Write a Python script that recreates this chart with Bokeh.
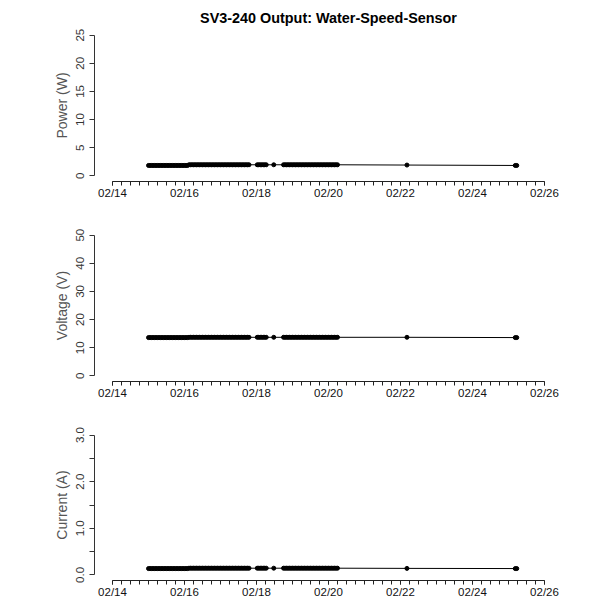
import pandas as pd
from bokeh.plotting import figure
from bokeh.layouts import column
from bokeh.models import Range1d, FixedTicker, DatetimeTickFormatter, PrintfTickFormatter
from bokeh.embed import file_html
from bokeh.resources import INLINE

# ---------------- data ----------------
# hours after 2015-02-15 00:00, by stretch of readings
hours_a = [0, 1, 2, 3, 4, 5, 6, 7, 8, 9,
           10, 11, 12, 13, 14, 15, 16, 17, 18, 19,
           20, 21, 22, 23, 24, 25, 26, 27, 28, 29,
           30, 31, 32, 33, 34, 35, 36, 37, 38, 39,
           40, 41, 42, 43, 44, 45, 46, 47, 48, 49,
           50, 51, 52, 53, 54, 55, 56, 57, 58, 59,
           60, 61, 62, 63, 64, 65, 66, 67]
hours_b = [72.5, 73.5, 74.5, 75.5, 76.5, 77.5, 78.5, 83.5]
hours_d = [90, 91, 92, 93, 94, 95, 96, 97, 98, 99,
           100, 101, 102, 103, 104, 105, 106, 107, 108, 109,
           110, 111, 112, 113, 114, 115, 116, 117, 118, 119,
           120, 121, 122, 123, 124, 125, 126]
hours_e = [172.3, 244.5, 245.5]

power_a = [1.85, 1.85, 1.85, 1.85, 1.85, 1.85, 1.85, 1.85, 1.85, 1.85,
           1.85, 1.85, 1.85, 1.85, 1.85, 1.85, 1.85, 1.85, 1.85, 1.85,
           1.85, 1.85, 1.85, 1.85, 1.85, 1.85, 1.85, 1.97, 1.97, 1.97,
           1.97, 1.97, 1.97, 1.97, 1.97, 1.97, 1.97, 1.97, 1.97, 1.97,
           1.97, 1.97, 1.97, 1.97, 1.97, 1.97, 1.97, 1.97, 1.97, 1.97,
           1.97, 1.97, 1.97, 1.97, 1.97, 1.97, 1.97, 1.97, 1.97, 1.97,
           1.97, 1.97, 1.97, 1.97, 1.97, 1.97, 1.97, 1.97]
power_b = [1.97, 1.97, 1.97, 1.97, 1.97, 1.97, 1.97, 1.97]
power_d = [1.97, 1.97, 1.97, 1.97, 1.97, 1.97, 1.97, 1.97, 1.97, 1.97,
           1.97, 1.97, 1.97, 1.97, 1.97, 1.97, 1.97, 1.97, 1.97, 1.97,
           1.97, 1.97, 1.97, 1.97, 1.97, 1.97, 1.97, 1.97, 1.97, 1.97,
           1.97, 1.97, 1.97, 1.97, 1.97, 1.97, 1.97]
power_e = [1.92, 1.85, 1.85]

voltage_a = [13.6, 13.6, 13.6, 13.6, 13.6, 13.6, 13.6, 13.6, 13.6, 13.6,
             13.6, 13.6, 13.6, 13.6, 13.6, 13.6, 13.6, 13.6, 13.6, 13.6,
             13.6, 13.6, 13.6, 13.6, 13.6, 13.6, 13.6, 13.7, 13.7, 13.7,
             13.7, 13.7, 13.7, 13.7, 13.7, 13.7, 13.7, 13.7, 13.7, 13.7,
             13.7, 13.7, 13.7, 13.7, 13.7, 13.7, 13.7, 13.7, 13.7, 13.7,
             13.7, 13.7, 13.7, 13.7, 13.7, 13.7, 13.7, 13.7, 13.7, 13.7,
             13.7, 13.7, 13.7, 13.7, 13.7, 13.7, 13.7, 13.7]
voltage_b = [13.7, 13.7, 13.7, 13.7, 13.7, 13.7, 13.7, 13.7]
voltage_d = [13.7, 13.7, 13.7, 13.7, 13.7, 13.7, 13.7, 13.7, 13.7, 13.7,
             13.7, 13.7, 13.7, 13.7, 13.7, 13.7, 13.7, 13.7, 13.7, 13.7,
             13.7, 13.7, 13.7, 13.7, 13.7, 13.7, 13.7, 13.7, 13.7, 13.7,
             13.7, 13.7, 13.7, 13.7, 13.7, 13.7, 13.7]
voltage_e = [13.7, 13.6, 13.6]

current_a = [0.136, 0.136, 0.136, 0.136, 0.136, 0.136, 0.136, 0.136, 0.136, 0.136,
             0.136, 0.136, 0.136, 0.136, 0.136, 0.136, 0.136, 0.136, 0.136, 0.136,
             0.136, 0.136, 0.136, 0.136, 0.136, 0.136, 0.136, 0.144, 0.144, 0.144,
             0.144, 0.144, 0.144, 0.144, 0.144, 0.144, 0.144, 0.144, 0.144, 0.144,
             0.144, 0.144, 0.144, 0.144, 0.144, 0.144, 0.144, 0.144, 0.144, 0.144,
             0.144, 0.144, 0.144, 0.144, 0.144, 0.144, 0.144, 0.144, 0.144, 0.144,
             0.144, 0.144, 0.144, 0.144, 0.144, 0.144, 0.144, 0.144]
current_b = [0.144, 0.144, 0.144, 0.144, 0.144, 0.144, 0.144, 0.144]
current_d = [0.144, 0.144, 0.144, 0.144, 0.144, 0.144, 0.144, 0.144, 0.144, 0.144,
             0.144, 0.144, 0.144, 0.144, 0.144, 0.144, 0.144, 0.144, 0.144, 0.144,
             0.144, 0.144, 0.144, 0.144, 0.144, 0.144, 0.144, 0.144, 0.144, 0.144,
             0.144, 0.144, 0.144, 0.144, 0.144, 0.144, 0.144]
current_e = [0.140, 0.136, 0.136]

x_tick_dates = ["2015-02-14", "2015-02-16", "2015-02-18", "2015-02-20",
                "2015-02-22", "2015-02-24", "2015-02-26"]

power_ticks = [0, 5, 10, 15, 20, 25]
voltage_ticks = [0, 10, 20, 30, 40, 50]
current_ticks = [0, 1, 2, 3]
current_minor = [0.5, 1.5, 2.5]

title_text = "SV3-240 Output: Water-Speed-Sensor"

# ---------------- build ----------------
hours = hours_a + hours_b + hours_d + hours_e
power = power_a + power_b + power_d + power_e
voltage = voltage_a + voltage_b + voltage_d + voltage_e
current = current_a + current_b + current_d + current_e

origin = pd.Timestamp("2015-02-15 00:00")
times = [origin + pd.Timedelta(hours=h) for h in hours]


def ms(ts):
    return pd.Timestamp(ts).value / 1e6


major_ms = [ms(d) for d in x_tick_dates]
minor_ms = [major_ms[0] + i * 6 * 3600 * 1000 for i in range(49)]

FONT = "Liberation Sans"


def make_panel(y, yrange, ybounds, yticks, yminor, ylabel, height, top, bottom, fmt=None, title=None):
    p = figure(x_axis_type="datetime", output_backend="svg", toolbar_location=None,
               width=592, height=height,
               min_border_left=94, min_border_right=30, min_border_top=top, min_border_bottom=bottom,
               x_range=Range1d(ms("2015-02-13 12:00"), ms("2015-02-26 12:00")),
               y_range=Range1d(*yrange), background_fill_color="white",
               border_fill_color="white")
    p.outline_line_color = None
    p.xgrid.visible = False
    p.ygrid.visible = False
    if title:
        p.title.text = title
        p.title.align = "center"
        p.title.text_font = FONT
        p.title.text_font_size = "14.4px"
        p.title.text_font_style = "bold"
        p.title.text_color = "black"
        p.title.standoff = 7

    xa = p.xaxis[0]
    xa.ticker = FixedTicker(ticks=major_ms, minor_ticks=minor_ms)
    xa.formatter = DatetimeTickFormatter(days="%m/%d", months="%m/%d", hours="%m/%d",
                                         hourmin="%m/%d", years="%m/%d")
    xa.bounds = (major_ms[0], major_ms[-1])
    xa.major_tick_in = 0
    xa.major_tick_out = 4
    xa.minor_tick_in = 0
    xa.minor_tick_out = 4
    xa.axis_line_color = "#222222"
    xa.major_tick_line_color = "#222222"
    xa.minor_tick_line_color = "#222222"
    xa.major_label_text_font = FONT
    xa.major_label_text_font_size = "11.5px"
    xa.major_label_text_color = "#111111"
    xa.major_label_standoff = 1

    ya = p.yaxis[0]
    ya.ticker = FixedTicker(ticks=yticks, minor_ticks=yminor)
    if fmt:
        ya.formatter = PrintfTickFormatter(format=fmt)
    ya.bounds = ybounds
    ya.major_tick_in = 0
    ya.major_tick_out = 5
    ya.minor_tick_in = 0
    ya.minor_tick_out = 5 if yminor else 0
    ya.axis_line_color = "#333333"
    ya.major_tick_line_color = "#333333"
    ya.minor_tick_line_color = "#333333"
    ya.major_label_orientation = "vertical"
    ya.major_label_text_font = FONT
    ya.major_label_text_font_size = "11.5px"
    ya.major_label_text_color = "#333333"
    ya.major_label_standoff = 5
    ya.axis_label = ylabel
    ya.axis_label_text_font = FONT
    ya.axis_label_text_font_size = "14px"
    ya.axis_label_text_font_style = "normal"
    ya.axis_label_text_color = "#555555"
    ya.axis_label_standoff = 4

    p.line(times, y, line_color="black", line_width=1)
    p.scatter(times, y, marker="circle", size=4, fill_color="black", line_color="black")
    return p


p1 = make_panel(power, (-1, 26), (0, 25), power_ticks, [], "Power (W)", 208, 29, 27, title=title_text)
p2 = make_panel(voltage, (-2, 52), (0, 50), voltage_ticks, [], "Voltage (V)", 200, 21, 27)
p3 = make_panel(current, (-0.12, 3.12), (0, 3), current_ticks, current_minor, "Current (A)", 192, 21, 19, fmt="%.1f")

layout = column(p1, p2, p3)
open("out.html", "w").write(file_html(layout, INLINE))
